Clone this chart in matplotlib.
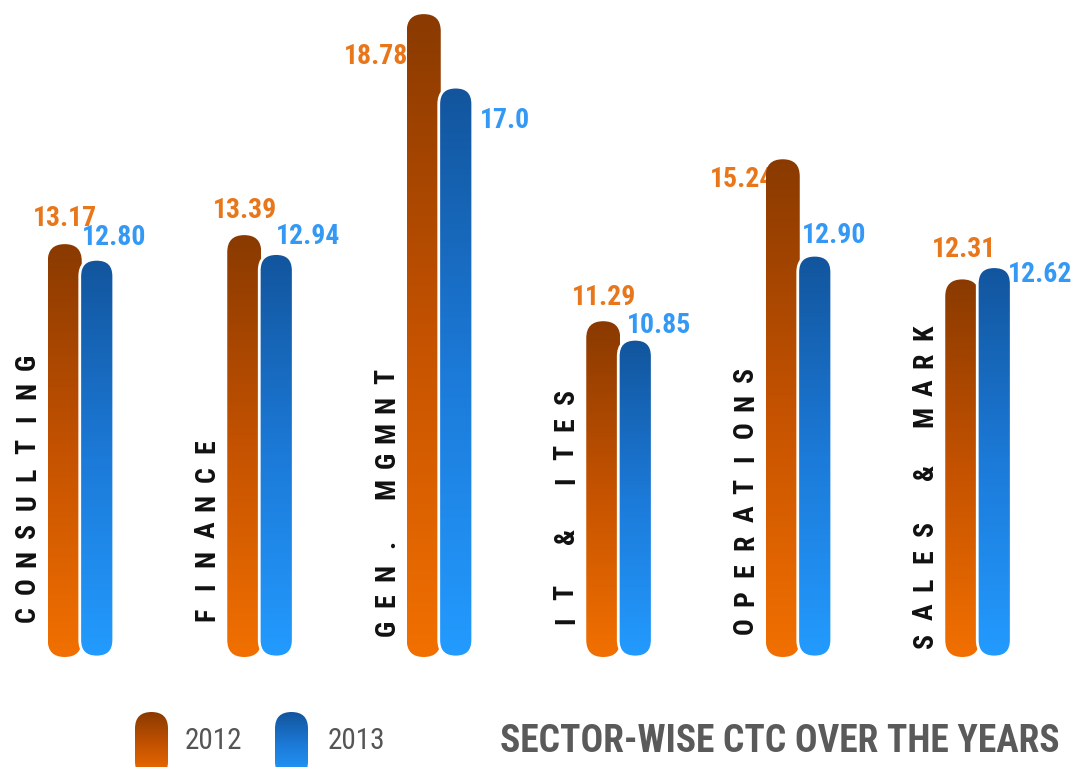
#!/usr/bin/env python3
"""Sector-wise CTC, 2012 vs 2013, drawn as rounded gradient bars."""

import matplotlib

matplotlib.use("Agg")
import matplotlib.pyplot as plt
import numpy as np
from matplotlib import font_manager
from matplotlib.colors import LinearSegmentedColormap
from matplotlib.patches import FancyBboxPatch

# ---- data -------------------------------------------------------------
categories = ["CONSULTING", "FINANCE", "GEN. MGMNT", "IT & ITES", "OPERATIONS", "SALES & MARK"]
ctc_2012 = [13.17, 13.39, 18.78, 11.29, 15.24, 12.31]
ctc_2013 = [12.80, 12.94, 17.0, 10.85, 12.90, 12.62]
labels_2012 = ["13.17", "13.39", "18.78", "11.29", "15.24", "12.31"]
labels_2013 = ["12.80", "12.94", "17.0", "10.85", "12.90", "12.62"]
years = ["2012", "2013"]
title = "SECTOR-WISE CTC OVER THE YEARS"

# ---- layout (pixels) --------------------------------------------------
W, H, DPI = 1072, 767, 100
PX_X = 179.5          # pixels per category step
PX_Y = 41.0           # pixels per CTC unit
X0 = 80.75            # pixel x of first pair centre
BASE = 3.1            # CTC value at bar bottom
BASE_PX = 657         # pixel row (from top) of bar bottom
BAR_W = 34

# value-label offsets (dx, dy) in px from bar centre / bar top
OFF_2012 = [(0, 26), (1, 25), (-48, -42), (1, 24), (-41, -20), (2, 30)]
OFF_2013 = [(17, 22), (32, 17), (49, -33), (24, 14), (19, 20), (46, -8)]
# first-letter row (px from top) of the vertical category labels
CAT_START = [614, 614, 628, 620, 626, 640]
CAT_STEP = 28

# legend pills: left edge px, text left px
LEGEND_POS = [(135, 185), (275, 328)]

# pick a narrow face if one is installed
_installed = {f.name for f in font_manager.fontManager.ttflist}
FONT = [f for f in ["Roboto Condensed", "Liberation Sans Narrow", "Open Sans Condensed",
                    "DejaVu Sans Condensed", "Noto Sans Display", "Roboto", "DejaVu Sans"]
        if f in _installed] or ["DejaVu Sans"]
STRETCH = "condensed"

ORANGE = LinearSegmentedColormap.from_list("o", ["#f27000", "#c45200", "#8a3a00"])
BLUE = LinearSegmentedColormap.from_list("b", ["#239bff", "#1c7ad8", "#12559d"])
ORANGE_TXT = "#e8761b"
BLUE_TXT = "#3499f5"


def px_x(p):
    return p / PX_X


def px_y(p):
    return p / PX_Y


def col_to_x(col):
    return (col - X0) / PX_X


def row_to_val(row):
    return BASE - (row - BASE_PX) / PX_Y


def pill(ax, left, width, y0, y1, cmap, outline=False, z=2):
    aspect = PX_X / PX_Y
    style = f"round,pad=0,rounding_size={width / 2}"
    patch = FancyBboxPatch((left, y0), width, y1 - y0, boxstyle=style,
                           mutation_aspect=aspect, facecolor="none",
                           edgecolor="none", zorder=z)
    ax.add_patch(patch)
    grad = np.linspace(0, 1, 256).reshape(-1, 1)
    im = ax.imshow(grad, extent=[left, left + width, y0, y1], origin="lower",
                   cmap=cmap, aspect="auto", zorder=z, interpolation="bilinear")
    im.set_clip_path(patch)
    if outline:
        edge = FancyBboxPatch((left, y0), width, y1 - y0, boxstyle=style,
                              mutation_aspect=aspect, facecolor="none",
                              edgecolor="white", lw=2.0, zorder=z + 0.1)
        ax.add_patch(edge)


def main() -> None:
    fig = plt.figure(figsize=(W / DPI, H / DPI), dpi=DPI)
    ax = fig.add_axes([0, 0, 1, 1])

    xs = np.arange(len(categories))
    for i, x in enumerate(xs):
        o_left = x - px_x(BAR_W - 1)
        b_left = x - px_x(1)
        pill(ax, o_left, px_x(BAR_W), BASE, ctc_2012[i], ORANGE, z=2)
        pill(ax, b_left, px_x(BAR_W), BASE, ctc_2013[i], BLUE, outline=True, z=3)

        oc = o_left + px_x(BAR_W / 2)
        bc = b_left + px_x(BAR_W / 2)
        dx, dy = OFF_2012[i]
        ax.text(oc + px_x(dx), ctc_2012[i] + px_y(dy), labels_2012[i],
                ha="center", va="center", fontsize=20, fontweight="bold",
                fontstretch=STRETCH, color=ORANGE_TXT, family=FONT, zorder=1)
        dx, dy = OFF_2013[i]
        ax.text(bc + px_x(dx), ctc_2013[i] + px_y(dy), labels_2013[i],
                ha="center", va="center", fontsize=20, fontweight="bold",
                fontstretch=STRETCH, color=BLUE_TXT, family=FONT, zorder=5)

        # letter-spaced vertical category label
        lx = oc - px_x(37)
        for k, ch in enumerate(categories[i]):
            if ch == " ":
                continue
            ax.text(lx, row_to_val(CAT_START[i] - k * CAT_STEP), ch,
                    rotation=90, ha="center", va="center", fontsize=20,
                    fontweight="bold", fontstretch=STRETCH, color="#111111",
                    family=FONT)

    # legend pills
    for j, cmap in enumerate([ORANGE, BLUE]):
        pill_px, text_px = LEGEND_POS[j]
        pill(ax, col_to_x(pill_px), px_x(33), row_to_val(778), row_to_val(712), cmap, z=2)
        ax.text(col_to_x(text_px), row_to_val(741), years[j], ha="left", va="center",
                fontsize=21, fontstretch=STRETCH, color="#555555", family=FONT)

    ax.text(col_to_x(1060), row_to_val(742), title, ha="right", va="center",
            fontsize=27, fontweight="bold", fontstretch=STRETCH, color="#5a5a5a",
            family=FONT)

    ax.set_xlim(col_to_x(0), col_to_x(W))
    ax.set_ylim(row_to_val(H), row_to_val(0))
    ax.axis("off")

    fig.savefig("out.png", dpi=DPI)


if __name__ == "__main__":
    main()
